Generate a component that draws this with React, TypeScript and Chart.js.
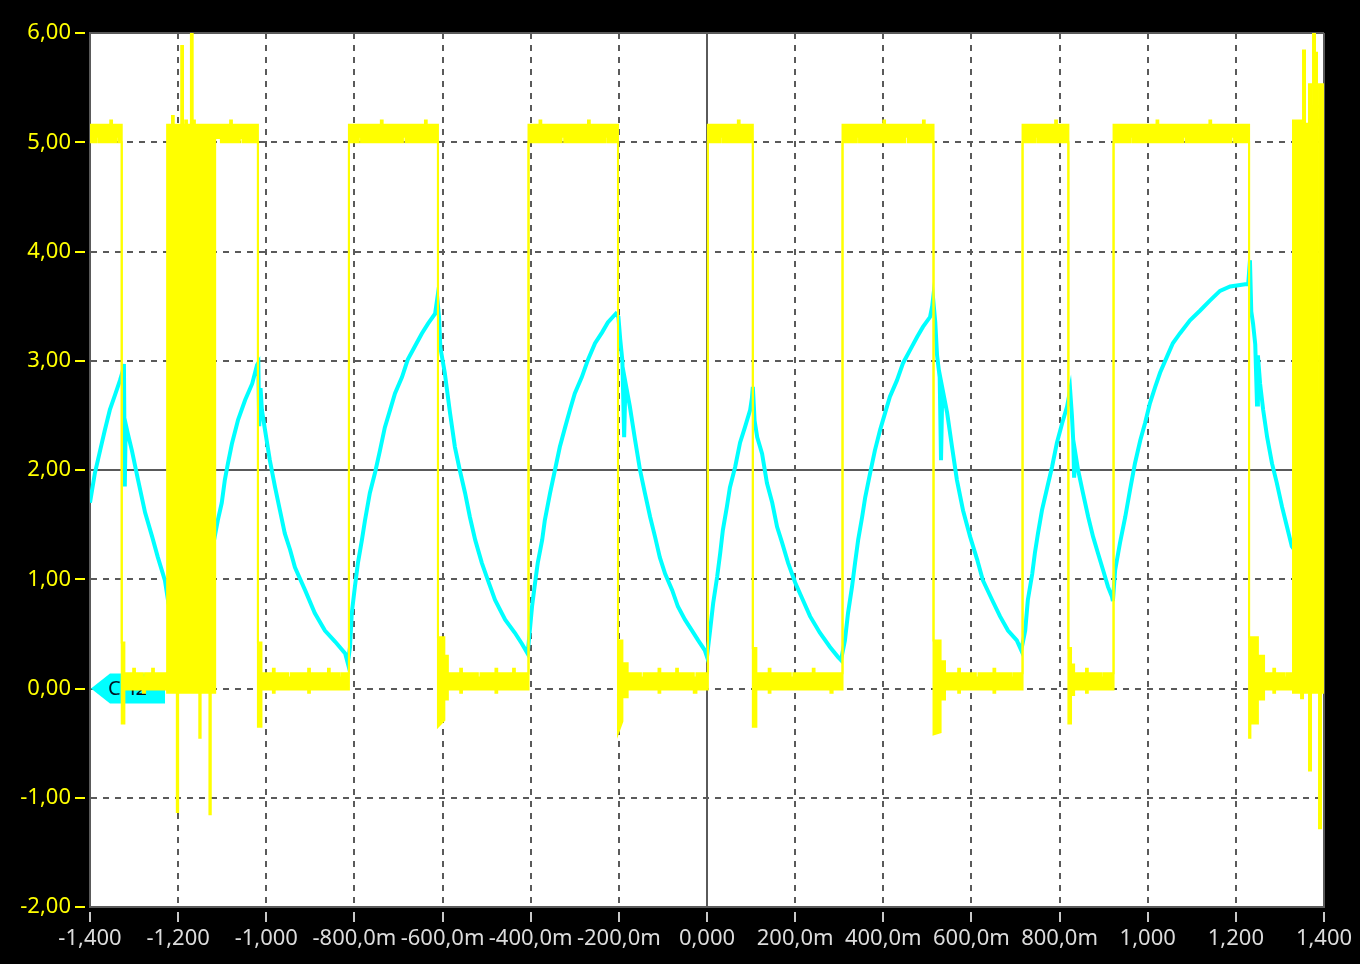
import React, { useEffect, useRef } from "react";
import { Chart, registerables } from "chart.js";

Chart.register(...registerables);

// Time axis (seconds) ticks and labels
const xTickValues = [-1.4, -1.2, -1.0, -0.8, -0.6, -0.4, -0.2, 0, 0.2, 0.4, 0.6, 0.8, 1.0, 1.2, 1.4];
const xTickLabels = ["-1,400", "-1,200", "-1,000", "-800,0m", "-600,0m", "-400,0m", "-200,0m", "0,000", "200,0m", "400,0m", "600,0m", "800,0m", "1,000", "1,200", "1,400"];
// Voltage axis ticks and labels
const yTickValues = [-2, -1, 0, 1, 2, 3, 4, 5, 6];
const yTickLabels = ["-2,00", "-1,00", "0,00", "1,00", "2,00", "3,00", "4,00", "5,00", "6,00"];

// CH1 (yellow) square wave, read as an envelope: [time, max, min]
const ch1Envelope: [number, number, number][] = [
  [-1.400, 5.16, 5.00], [-1.386, 5.16, 5.00], [-1.386, 5.16, 5.05], [-1.381, 5.16, 5.05], [-1.381, 5.16, 5.00],
  [-1.354, 5.16, 5.00], [-1.354, 5.20, 5.00], [-1.350, 5.20, 5.00], [-1.350, 5.16, 5.00], [-1.340, 5.16, 5.00],
  [-1.340, 5.16, 5.05], [-1.335, 5.16, 5.05], [-1.335, 5.16, 5.00], [-1.328, 5.16, 5.00],
  [-1.328, 0.42, -0.32], [-1.322, 0.42, -0.32], [-1.322, 0.14, -0.01],
  [-1.302, 0.14, -0.01], [-1.302, 0.18, -0.01], [-1.298, 0.18, -0.01], [-1.298, 0.14, -0.01],
  [-1.280, 0.14, -0.01], [-1.280, 0.10, -0.04], [-1.275, 0.10, -0.04], [-1.275, 0.14, -0.01],
  [-1.259, 0.14, -0.01], [-1.259, 0.18, -0.01], [-1.255, 0.18, -0.01], [-1.255, 0.14, -0.01], [-1.225, 0.14, -0.01],
  [-1.225, 5.16, -0.04], [-1.214, 5.16, -0.04], [-1.214, 5.24, -0.04], [-1.210, 5.24, -0.04], [-1.210, 5.16, -0.04],
  [-1.203, 5.16, -0.04], [-1.203, 5.16, -1.13], [-1.200, 5.16, -1.13], [-1.200, 5.16, -0.04],
  [-1.193, 5.16, -0.04], [-1.193, 5.88, -0.04], [-1.189, 5.88, -0.04], [-1.189, 5.16, -0.04],
  [-1.184, 5.16, -0.04], [-1.184, 5.20, -0.04], [-1.180, 5.20, -0.04], [-1.180, 5.16, -0.04],
  [-1.171, 5.16, -0.04], [-1.171, 6.00, -0.04], [-1.167, 6.00, -0.04], [-1.167, 5.20, -0.04], [-1.162, 5.20, -0.04], [-1.162, 5.16, -0.04],
  [-1.152, 5.16, -0.04], [-1.152, 5.16, -0.45], [-1.149, 5.16, -0.45], [-1.149, 5.16, -0.04],
  [-1.129, 5.16, -0.04], [-1.129, 5.16, -1.15], [-1.126, 5.16, -1.15], [-1.126, 5.16, -0.04], [-1.116, 5.16, -0.04],
  [-1.116, 5.16, 5.04], [-1.103, 5.16, 5.04], [-1.103, 5.16, 5.00], [-1.082, 5.16, 5.00], [-1.082, 5.20, 5.04],
  [-1.078, 5.20, 5.04], [-1.078, 5.16, 5.00], [-1.060, 5.16, 5.00], [-1.060, 5.16, 5.04], [-1.054, 5.16, 5.04],
  [-1.054, 5.16, 5.00], [-1.019, 5.16, 5.00],
  [-1.019, 0.42, -0.35], [-1.011, 0.42, -0.35], [-1.011, 0.14, -0.01],
  [-0.985, 0.14, -0.01], [-0.985, 0.18, -0.04], [-0.981, 0.18, -0.04], [-0.981, 0.14, -0.01],
  [-0.950, 0.14, -0.01], [-0.950, 0.10, -0.01], [-0.944, 0.10, -0.01], [-0.944, 0.14, -0.01],
  [-0.905, 0.14, -0.01], [-0.905, 0.18, -0.04], [-0.901, 0.18, -0.04], [-0.901, 0.14, -0.01],
  [-0.860, 0.14, -0.01], [-0.860, 0.18, -0.01], [-0.856, 0.18, -0.01], [-0.856, 0.14, -0.01],
  [-0.835, 0.14, -0.01], [-0.835, 0.10, -0.01], [-0.830, 0.10, -0.01], [-0.830, 0.14, -0.01], [-0.8125, 0.14, -0.01],
  [-0.8125, 5.16, 5.00], [-0.790, 5.16, 5.00], [-0.790, 5.16, 5.05], [-0.785, 5.16, 5.05], [-0.785, 5.16, 5.00],
  [-0.740, 5.16, 5.00], [-0.740, 5.20, 5.00], [-0.736, 5.20, 5.00], [-0.736, 5.16, 5.00],
  [-0.690, 5.16, 5.00], [-0.690, 5.16, 5.05], [-0.684, 5.16, 5.05], [-0.684, 5.16, 5.00],
  [-0.640, 5.16, 5.00], [-0.640, 5.20, 5.00], [-0.636, 5.20, 5.00], [-0.636, 5.16, 5.00], [-0.6105, 5.16, 5.00],
  [-0.6105, 0.47, -0.35], [-0.596, 0.47, -0.29], [-0.596, 0.30, -0.10], [-0.588, 0.30, -0.10], [-0.588, 0.14, -0.01],
  [-0.560, 0.14, -0.01], [-0.560, 0.18, -0.04], [-0.556, 0.18, -0.04], [-0.556, 0.14, -0.01],
  [-0.520, 0.14, -0.01], [-0.520, 0.10, -0.01], [-0.514, 0.10, -0.01], [-0.514, 0.14, -0.01],
  [-0.480, 0.14, -0.01], [-0.480, 0.18, -0.04], [-0.476, 0.18, -0.04], [-0.476, 0.14, -0.01],
  [-0.440, 0.14, -0.01], [-0.440, 0.18, -0.01], [-0.436, 0.18, -0.01], [-0.436, 0.14, -0.01], [-0.405, 0.14, -0.01],
  [-0.405, 5.16, 5.00], [-0.380, 5.16, 5.00], [-0.380, 5.20, 5.05], [-0.376, 5.20, 5.05], [-0.376, 5.16, 5.00],
  [-0.330, 5.16, 5.00], [-0.330, 5.16, 5.05], [-0.324, 5.16, 5.05], [-0.324, 5.16, 5.00],
  [-0.270, 5.16, 5.00], [-0.270, 5.20, 5.00], [-0.266, 5.20, 5.00], [-0.266, 5.16, 5.00],
  [-0.230, 5.16, 5.00], [-0.230, 5.16, 5.05], [-0.225, 5.16, 5.05], [-0.225, 5.16, 5.00], [-0.202, 5.16, 5.00],
  [-0.202, 0.44, -0.41], [-0.192, 0.44, -0.30], [-0.192, 0.23, -0.08], [-0.180, 0.23, -0.08], [-0.180, 0.14, -0.01],
  [-0.150, 0.14, -0.01], [-0.150, 0.10, -0.01], [-0.144, 0.10, -0.01], [-0.144, 0.14, -0.01],
  [-0.110, 0.14, -0.01], [-0.110, 0.18, -0.04], [-0.106, 0.18, -0.04], [-0.106, 0.14, -0.01],
  [-0.070, 0.14, -0.01], [-0.070, 0.18, -0.01], [-0.066, 0.18, -0.01], [-0.066, 0.14, -0.01],
  [-0.030, 0.14, -0.01], [-0.030, 0.10, -0.04], [-0.024, 0.10, -0.04], [-0.024, 0.14, -0.01], [0.002, 0.14, -0.01],
  [0.002, 5.16, 5.00], [0.030, 5.16, 5.00], [0.030, 5.16, 5.05], [0.035, 5.16, 5.05], [0.035, 5.16, 5.00],
  [0.070, 5.16, 5.00], [0.070, 5.20, 5.00], [0.074, 5.20, 5.00], [0.074, 5.16, 5.00], [0.104, 5.16, 5.00],
  [0.104, 0.37, -0.35], [0.112, 0.37, -0.35], [0.112, 0.14, -0.01],
  [0.140, 0.14, -0.01], [0.140, 0.18, -0.04], [0.144, 0.18, -0.04], [0.144, 0.14, -0.01],
  [0.190, 0.14, -0.01], [0.190, 0.10, -0.01], [0.196, 0.10, -0.01], [0.196, 0.14, -0.01],
  [0.240, 0.14, -0.01], [0.240, 0.18, -0.01], [0.244, 0.18, -0.01], [0.244, 0.14, -0.01],
  [0.280, 0.14, -0.01], [0.280, 0.14, -0.04], [0.285, 0.14, -0.04], [0.285, 0.14, -0.01], [0.3075, 0.14, -0.01],
  [0.3075, 5.16, 5.00], [0.340, 5.16, 5.00], [0.340, 5.16, 5.05], [0.345, 5.16, 5.05], [0.345, 5.16, 5.00],
  [0.400, 5.16, 5.00], [0.400, 5.20, 5.00], [0.404, 5.20, 5.00], [0.404, 5.16, 5.00],
  [0.450, 5.16, 5.00], [0.450, 5.16, 5.05], [0.456, 5.16, 5.05], [0.456, 5.16, 5.00],
  [0.490, 5.16, 5.00], [0.490, 5.20, 5.00], [0.494, 5.20, 5.00], [0.494, 5.16, 5.00], [0.514, 5.16, 5.00],
  [0.514, 0.44, -0.42], [0.530, 0.44, -0.40], [0.530, 0.25, -0.10], [0.540, 0.25, -0.10], [0.540, 0.14, -0.01],
  [0.570, 0.14, -0.01], [0.570, 0.18, -0.04], [0.574, 0.18, -0.04], [0.574, 0.14, -0.01],
  [0.610, 0.14, -0.01], [0.610, 0.10, -0.01], [0.616, 0.10, -0.01], [0.616, 0.14, -0.01],
  [0.650, 0.14, -0.01], [0.650, 0.18, -0.04], [0.654, 0.18, -0.04], [0.654, 0.14, -0.01],
  [0.690, 0.14, -0.01], [0.690, 0.10, -0.01], [0.695, 0.10, -0.01], [0.695, 0.14, -0.01], [0.716, 0.14, -0.01],
  [0.716, 5.16, 5.00], [0.745, 5.16, 5.00], [0.745, 5.16, 5.05], [0.750, 5.16, 5.05], [0.750, 5.16, 5.00],
  [0.790, 5.16, 5.00], [0.790, 5.20, 5.00], [0.794, 5.20, 5.00], [0.794, 5.16, 5.00], [0.820, 5.16, 5.00],
  [0.820, 0.37, -0.32], [0.826, 0.37, -0.32], [0.826, 0.22, -0.06], [0.833, 0.22, -0.06], [0.833, 0.14, -0.01],
  [0.860, 0.14, -0.01], [0.860, 0.18, -0.04], [0.864, 0.18, -0.04], [0.864, 0.14, -0.01],
  [0.895, 0.14, -0.01], [0.895, 0.10, -0.01], [0.900, 0.10, -0.01], [0.900, 0.14, -0.01], [0.9225, 0.14, -0.01],
  [0.9225, 5.16, 5.00], [0.960, 5.16, 5.00], [0.960, 5.16, 5.05], [0.965, 5.16, 5.05], [0.965, 5.16, 5.00],
  [1.020, 5.16, 5.00], [1.020, 5.20, 5.00], [1.024, 5.20, 5.00], [1.024, 5.16, 5.00],
  [1.080, 5.16, 5.00], [1.080, 5.16, 5.05], [1.086, 5.16, 5.05], [1.086, 5.16, 5.00],
  [1.140, 5.16, 5.00], [1.140, 5.20, 5.00], [1.144, 5.20, 5.00], [1.144, 5.16, 5.00],
  [1.190, 5.16, 5.00], [1.190, 5.16, 5.05], [1.196, 5.16, 5.05], [1.196, 5.16, 5.00], [1.230, 5.16, 5.00],
  [1.230, 0.47, -0.45], [1.233, 0.47, -0.45], [1.233, 0.47, -0.32], [1.250, 0.47, -0.32], [1.250, 0.30, -0.10],
  [1.264, 0.30, -0.10], [1.264, 0.14, -0.01],
  [1.285, 0.14, -0.01], [1.285, 0.18, -0.04], [1.289, 0.18, -0.04], [1.289, 0.14, -0.01],
  [1.310, 0.14, -0.01], [1.310, 0.10, -0.01], [1.315, 0.10, -0.01], [1.315, 0.14, -0.01], [1.3297, 0.14, -0.01],
  [1.3297, 5.20, -0.04], [1.3479, 5.20, -0.04], [1.3479, 5.20, -0.09], [1.3524, 5.20, -0.09],
  [1.3524, 5.84, -0.04], [1.3569, 5.84, -0.04], [1.3569, 5.17, -0.04], [1.3660, 5.17, -0.04],
  [1.3660, 5.53, -0.75], [1.3705, 5.53, -0.75], [1.3705, 5.33, -0.04], [1.3751, 5.33, -0.04],
  [1.3751, 6.00, -0.04], [1.3796, 6.00, -0.04], [1.3796, 5.82, -0.04], [1.3841, 5.82, -0.04],
  [1.3841, 2.68, -0.04], [1.3887, 2.68, -0.04], [1.3887, 5.53, -1.28], [1.3932, 5.53, -1.28],
  [1.3932, 5.53, -0.04], [1.400, 5.53, -0.04],
];

// CH2 (cyan) RC voltage: [time, volts]
const ch2Trace: [number, number][] = [
  [-1.400, 1.70], [-1.389, 1.97], [-1.377, 2.18], [-1.366, 2.37], [-1.355, 2.55], [-1.343, 2.69], [-1.332, 2.82],
  [-1.326, 2.90], [-1.323, 2.97], [-1.321, 1.85], [-1.319, 2.42], [-1.314, 2.33], [-1.305, 2.18], [-1.291, 1.91],
  [-1.275, 1.61], [-1.259, 1.39], [-1.246, 1.20], [-1.230, 0.99], [-1.225, 0.86], [-1.205, 1.20], [-1.173, 1.15],
  [-1.139, 1.25], [-1.119, 1.35], [-1.110, 1.54], [-1.101, 1.70], [-1.094, 1.91], [-1.087, 2.06], [-1.078, 2.24],
  [-1.064, 2.46], [-1.048, 2.64], [-1.032, 2.79], [-1.021, 2.96], [-1.018, 2.98], [-1.016, 2.40], [-1.013, 2.75],
  [-1.010, 2.55], [-1.003, 2.37], [-0.992, 2.09], [-0.980, 1.84], [-0.969, 1.63], [-0.958, 1.42], [-0.946, 1.27],
  [-0.935, 1.11], [-0.912, 0.90], [-0.890, 0.69], [-0.867, 0.53], [-0.844, 0.43], [-0.821, 0.32], [-0.815, 0.23],
  [-0.810, 0.38], [-0.806, 0.69], [-0.799, 0.93], [-0.792, 1.15], [-0.783, 1.36], [-0.776, 1.54], [-0.765, 1.79],
  [-0.753, 1.98], [-0.742, 2.18], [-0.731, 2.39], [-0.719, 2.55], [-0.708, 2.70], [-0.692, 2.85], [-0.679, 3.01],
  [-0.663, 3.13], [-0.647, 3.25], [-0.633, 3.34], [-0.617, 3.43], [-0.612, 3.57], [-0.608, 3.40], [-0.605, 3.12],
  [-0.595, 2.89], [-0.583, 2.52], [-0.572, 2.21], [-0.561, 2.00], [-0.549, 1.79], [-0.538, 1.57], [-0.526, 1.36],
  [-0.511, 1.15], [-0.497, 0.99], [-0.481, 0.81], [-0.458, 0.63], [-0.436, 0.51], [-0.420, 0.41], [-0.407, 0.32],
  [-0.402, 0.53], [-0.397, 0.75], [-0.390, 0.97], [-0.384, 1.15], [-0.374, 1.36], [-0.368, 1.54], [-0.356, 1.79],
  [-0.345, 2.00], [-0.334, 2.21], [-0.322, 2.39], [-0.311, 2.55], [-0.300, 2.70], [-0.284, 2.85], [-0.270, 3.01],
  [-0.254, 3.16], [-0.238, 3.26], [-0.225, 3.35], [-0.207, 3.43], [-0.201, 3.40], [-0.197, 3.20], [-0.192, 3.00],
  [-0.188, 2.30], [-0.185, 2.80], [-0.175, 2.58], [-0.163, 2.27], [-0.152, 2.00], [-0.141, 1.79], [-0.129, 1.57],
  [-0.118, 1.39], [-0.107, 1.20], [-0.095, 1.05], [-0.079, 0.90], [-0.066, 0.75], [-0.050, 0.63], [-0.034, 0.53],
  [-0.020, 0.44], [-0.005, 0.35], [0.000, 0.29], [0.007, 0.53], [0.014, 0.78], [0.023, 1.02], [0.030, 1.24],
  [0.036, 1.45], [0.045, 1.66], [0.052, 1.84], [0.064, 2.03], [0.075, 2.25], [0.086, 2.39], [0.098, 2.55],
  [0.102, 2.66], [0.104, 2.76], [0.108, 2.45], [0.114, 2.30], [0.125, 2.15], [0.136, 1.88], [0.148, 1.70],
  [0.159, 1.48], [0.170, 1.34], [0.184, 1.15], [0.200, 0.97], [0.211, 0.87], [0.234, 0.66], [0.256, 0.51],
  [0.279, 0.38], [0.297, 0.29], [0.304, 0.26], [0.313, 0.44], [0.320, 0.69], [0.329, 0.93], [0.336, 1.15],
  [0.343, 1.36], [0.352, 1.57], [0.359, 1.75], [0.370, 1.97], [0.381, 2.18], [0.393, 2.37], [0.404, 2.52],
  [0.415, 2.67], [0.431, 2.82], [0.445, 2.98], [0.461, 3.10], [0.477, 3.22], [0.490, 3.31], [0.506, 3.40],
  [0.511, 3.50], [0.513, 3.57], [0.518, 3.35], [0.522, 3.05], [0.528, 2.85], [0.531, 2.09], [0.534, 2.75],
  [0.545, 2.52], [0.556, 2.21], [0.567, 1.91], [0.581, 1.63], [0.597, 1.39], [0.613, 1.18], [0.626, 0.99],
  [0.647, 0.81], [0.665, 0.66], [0.683, 0.53], [0.703, 0.44], [0.713, 0.35], [0.722, 0.53], [0.728, 0.81],
  [0.738, 1.05], [0.744, 1.24], [0.751, 1.42], [0.760, 1.63], [0.772, 1.84], [0.783, 2.03], [0.794, 2.25],
  [0.806, 2.43], [0.817, 2.58], [0.824, 2.73], [0.828, 2.50], [0.831, 2.27], [0.833, 1.93], [0.836, 2.15],
  [0.842, 2.00], [0.853, 1.79], [0.865, 1.57], [0.876, 1.39], [0.887, 1.24], [0.899, 1.08], [0.910, 0.93],
  [0.919, 0.84], [0.921, 0.80], [0.926, 1.08], [0.937, 1.33], [0.949, 1.57], [0.960, 1.82], [0.971, 2.06],
  [0.983, 2.27], [0.994, 2.43], [1.005, 2.61], [1.017, 2.76], [1.028, 2.89], [1.044, 3.04], [1.057, 3.16],
  [1.073, 3.25], [1.096, 3.37], [1.119, 3.46], [1.141, 3.55], [1.164, 3.64], [1.187, 3.68], [1.221, 3.70],
  [1.228, 3.70], [1.232, 3.92], [1.235, 3.45], [1.239, 3.34], [1.244, 3.15], [1.248, 2.60], [1.250, 3.05],
  [1.255, 2.79], [1.262, 2.55], [1.271, 2.30], [1.282, 2.06], [1.293, 1.88], [1.305, 1.66], [1.316, 1.48],
  [1.327, 1.30], [1.346, 1.20], [1.370, 1.25], [1.398, 1.30], [1.400, 1.30],
];

const ch2MarkerLevel = 0;
const ch2MarkerText = "CH2";

const YELLOW = "#ffff00";
const CYAN = "#00ffff";
const GRID = "#5a5a5a";
const FONT = "'Noto Sans', 'Open Sans', 'DejaVu Sans', sans-serif";

const plotBackground = {
  id: "plotBackground",
  beforeDraw(chart: any) {
    const { ctx, chartArea } = chart;
    ctx.save();
    ctx.fillStyle = "#ffffff";
    ctx.fillRect(chartArea.left, chartArea.top, chartArea.right - chartArea.left, chartArea.bottom - chartArea.top);
    ctx.restore();
  },
};

const ch2Marker = {
  id: "ch2Marker",
  beforeDatasetsDraw(chart: any) {
    const { ctx, chartArea, scales } = chart;
    const y0 = scales.y.getPixelForValue(ch2MarkerLevel);
    const l = chartArea.left;
    ctx.save();
    ctx.fillStyle = CYAN;
    ctx.beginPath();
    ctx.moveTo(l + 1, y0);
    ctx.lineTo(l + 20, y0 - 15);
    ctx.lineTo(l + 75, y0 - 15);
    ctx.lineTo(l + 75, y0 + 15);
    ctx.lineTo(l + 20, y0 + 15);
    ctx.closePath();
    ctx.fill();
    ctx.fillStyle = "#001020";
    ctx.font = `20px ${FONT}`;
    ctx.textBaseline = "middle";
    ctx.fillText(ch2MarkerText, l + 18, y0 + 1);
    ctx.restore();
  },
};

function gridDash(center: number, min: number, max: number) {
  return (ctx: any) => {
    if (ctx.type !== "tick" || !ctx.tick) return [];
    const v = ctx.tick.value;
    return v === center || v === min || v === max ? [] : [6, 6];
  };
}

export default function App() {
  const canvasRef = useRef<HTMLCanvasElement | null>(null);

  useEffect(() => {
    const canvas = canvasRef.current;
    if (!canvas) return;
    const chart = new Chart(canvas, {
      type: "line",
      data: {
        datasets: [
          {
            label: "CH1 min",
            data: ch1Envelope.map(([x, , lo]) => ({ x, y: lo })),
            borderColor: YELLOW,
            backgroundColor: YELLOW,
            borderWidth: 2,
            pointRadius: 0,
            tension: 0,
            fill: false,
          },
          {
            label: "CH1 max",
            data: ch1Envelope.map(([x, hi]) => ({ x, y: hi })),
            borderColor: YELLOW,
            backgroundColor: YELLOW,
            borderWidth: 2,
            pointRadius: 0,
            tension: 0,
            fill: "-1",
          },
          {
            label: "CH2",
            data: ch2Trace.map(([x, y]) => ({ x, y })),
            borderColor: CYAN,
            backgroundColor: CYAN,
            borderWidth: 4,
            pointRadius: 0,
            tension: 0,
            fill: false,
          },
        ],
      },
      options: {
        animation: false,
        responsive: false,
        events: [],
        layout: { padding: { left: 0, right: 36, top: 33, bottom: 0 } },
        plugins: { legend: { display: false }, tooltip: { enabled: false } },
        scales: {
          x: {
            type: "linear",
            min: -1.4,
            max: 1.4,
            afterBuildTicks: (axis: any) => {
              axis.ticks = xTickValues.map((value) => ({ value }));
            },
            afterFit: (axis: any) => {
              axis.height = 57;
            },
            ticks: {
              autoSkip: false,
              maxRotation: 0,
              minRotation: 0,
              padding: 4,
              color: "#dcdcdc",
              font: { family: FONT, size: 22 },
              callback: (_v: any, i: number) => xTickLabels[i],
            },
            grid: {
              color: GRID,
              lineWidth: 2,
              tickLength: 15,
              tickColor: "#c8c8c8",
              tickWidth: 2,
              tickBorderDash: [10, 4],
              tickBorderDashOffset: 10,
            },
            border: { display: true, color: GRID, width: 2, dash: gridDash(0, -1.4, 1.4) },
          },
          y: {
            type: "linear",
            min: -2,
            max: 6,
            afterBuildTicks: (axis: any) => {
              axis.ticks = yTickValues.map((value) => ({ value }));
            },
            afterFit: (axis: any) => {
              axis.width = 90;
            },
            ticks: {
              padding: 4,
              color: YELLOW,
              font: { family: FONT, size: 22 },
              callback: (_v: any, i: number) => yTickLabels[i],
            },
            grid: {
              color: GRID,
              lineWidth: 2,
              tickLength: 15,
              tickColor: YELLOW,
              tickWidth: 2,
              tickBorderDash: [10, 10],
              tickBorderDashOffset: 0,
            },
            border: { display: true, color: GRID, width: 2, dash: gridDash(2, -2, 6) },
          },
        },
      },
      plugins: [plotBackground, ch2Marker],
    } as any);
    return () => chart.destroy();
  }, []);

  return (
    <div style={{ position: "fixed", left: 0, top: 0, width: 1360, height: 964, background: "#000" }}>
      <canvas ref={canvasRef} width={1360} height={964} style={{ display: "block", width: 1360, height: 964 }} />
    </div>
  );
}
